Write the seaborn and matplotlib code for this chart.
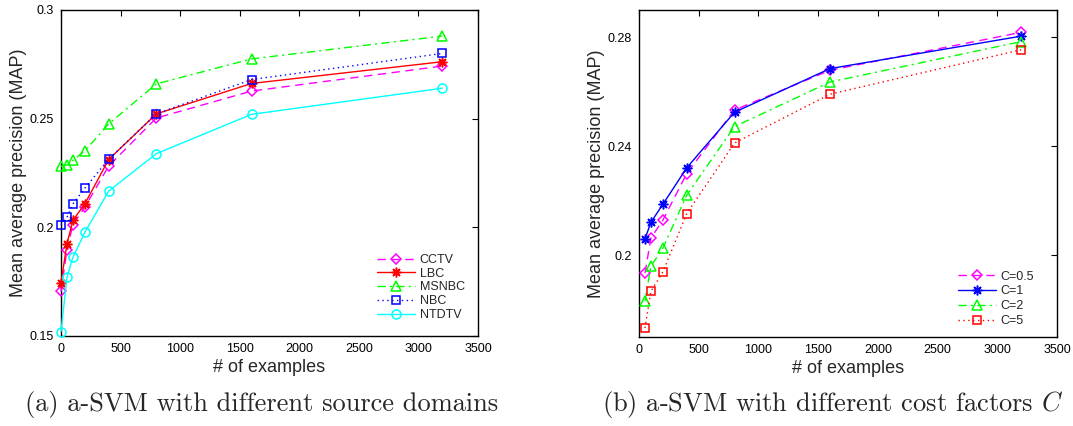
import numpy as np
import pandas as pd
import matplotlib
matplotlib.use("Agg")
import matplotlib.pyplot as plt
from matplotlib.ticker import FixedLocator, FuncFormatter
import seaborn as sns

# ---- data: panel (a), source domains ----
examples_a = [0, 50, 100, 200, 400, 800, 1600, 3200]
cctv = [0.1705, 0.1897, 0.2012, 0.2093, 0.2282, 0.2503, 0.2627, 0.2742]
lbc = [0.1745, 0.1924, 0.2032, 0.2108, 0.2312, 0.2522, 0.2662, 0.2762]
msnbc = [0.2280, 0.2287, 0.2309, 0.2352, 0.2476, 0.2660, 0.2775, 0.2880]
nbc = [0.2012, 0.2046, 0.2108, 0.2180, 0.2313, 0.2522, 0.2680, 0.2800]
ntdtv = [0.1520, 0.1770, 0.1862, 0.1977, 0.2167, 0.2339, 0.2520, 0.2640]
domain_names = ["CCTV", "LBC", "MSNBC", "NBC", "NTDTV"]

# ---- data: panel (b), cost factors ----
examples_b = [50, 100, 200, 400, 800, 1600, 3200]
c_05 = [0.1935, 0.2063, 0.2129, 0.2300, 0.2533, 0.2679, 0.2818]
c_1 = [0.2060, 0.2121, 0.2187, 0.2321, 0.2525, 0.2685, 0.2804]
c_2 = [0.1832, 0.1960, 0.2026, 0.2221, 0.2472, 0.2636, 0.2784]
c_5 = [0.1733, 0.1868, 0.1939, 0.2153, 0.2412, 0.2591, 0.2754]
cost_names = ["C=0.5", "C=1", "C=2", "C=5"]

xticks = [0, 500, 1000, 1500, 2000, 2500, 3000, 3500]
yticks_a = [0.15, 0.2, 0.25, 0.3]
yticks_b = [0.2, 0.24, 0.28]

sns.set_style("white")
plt.rcParams["font.family"] = ["Liberation Sans", "DejaVu Sans"]
plt.rcParams["mathtext.fontset"] = "cm"

ASTERISK = (8, 2, 0)
DASHED = (0, (6, 4))
DASHDOT = (0, (6, 3, 1.5, 3))
DOTTED = (0, (1, 2.5))

# line style per series: (color, linestyle, marker, markersize)
styles_a = {
    "CCTV": ("#ff00ff", DASHED, "D", 5.5),
    "LBC": ("#ff0000", "-", ASTERISK, 7),
    "MSNBC": ("#00ff00", DASHDOT, "^", 7.5),
    "NBC": ("#0000ff", DOTTED, "s", 5.5),
    "NTDTV": ("#00ffff", "-", "o", 6.5),
}
styles_b = {
    "C=0.5": ("#ff00ff", DASHED, "D", 5.5),
    "C=1": ("#0000ff", "-", ASTERISK, 7),
    "C=2": ("#00ff00", DASHDOT, "^", 7.5),
    "C=5": ("#ff0000", DOTTED, "s", 5.5),
}

df_a = pd.DataFrame({"examples": examples_a * 5,
                     "map": cctv + lbc + msnbc + nbc + ntdtv,
                     "source": np.repeat(domain_names, len(examples_a))})
df_b = pd.DataFrame({"examples": examples_b * 4,
                     "map": c_05 + c_1 + c_2 + c_5,
                     "cost": np.repeat(cost_names, len(examples_b))})

fig = plt.figure(figsize=(10.73, 4.26), dpi=100)
ax_a = fig.add_axes([61 / 1073, 1 - 336 / 426, 417 / 1073, 326 / 426])
ax_b = fig.add_axes([639 / 1073, 1 - 337 / 426, 418 / 1073, 327 / 426])


def draw_panel(ax, df, key, names, styles, anchor, spacing):
    for name in names:
        color, ls, marker, ms = styles[name]
        sub = df[df[key] == name]
        sns.lineplot(data=sub, x="examples", y="map", ax=ax, color=color,
                     linestyle=ls, linewidth=1.0, marker=marker,
                     markersize=ms, markerfacecolor="none",
                     markeredgecolor=color, markeredgewidth=1.1,
                     label=name, legend=False, clip_on=False)
    handles = ax.get_lines()[:len(names)]
    ax.legend(handles, names, loc="lower right", bbox_to_anchor=anchor,
              frameon=False, fontsize=9, handlelength=3.0,
              handletextpad=0.4, labelspacing=spacing, borderaxespad=0.0,
              borderpad=0.0)


# legend anchors in axes fractions (right edge, bottom edge)
draw_panel(ax_a, df_a, "source", domain_names, styles_a,
           (1 - 13 / 417, 15 / 326), 0.14)
draw_panel(ax_b, df_b, "cost", cost_names, styles_b,
           (1 - 23 / 418, 10 / 327), 0.22)

fmt = FuncFormatter(lambda v, p: f"{v:g}")
for ax, yt, ylim in [(ax_a, yticks_a, (0.15, 0.3)), (ax_b, yticks_b, (0.17, 0.29))]:
    ax.set_xlim(0, 3500)
    ax.set_ylim(*ylim)
    ax.xaxis.set_major_locator(FixedLocator(xticks))
    ax.yaxis.set_major_locator(FixedLocator(yt))
    ax.yaxis.set_major_formatter(fmt)
    ax.tick_params(direction="in", length=4, width=0.8, top=True, right=True,
                   labelsize=9, pad=5, colors="black")
    for sp in ax.spines.values():
        sp.set_visible(True)
        sp.set_color("black")
        sp.set_linewidth(1.0)
        sp.set_zorder(0.5)
    ax.set_xlabel("# of examples", fontsize=13, labelpad=3)
    ax.set_ylabel("Mean average precision (MAP)", fontsize=13, labelpad=2)

fig.text(262 / 1073, 1 - 405 / 426, "(a) a-SVM with different source domains",
         family="cmr10", fontsize=19, ha="center", va="center")
fig.text(833 / 1073, 1 - 405 / 426, "(b) a-SVM with different cost factors $C$",
         family="cmr10", fontsize=19, ha="center", va="center")

fig.savefig("out.png", dpi=100, facecolor="white")
